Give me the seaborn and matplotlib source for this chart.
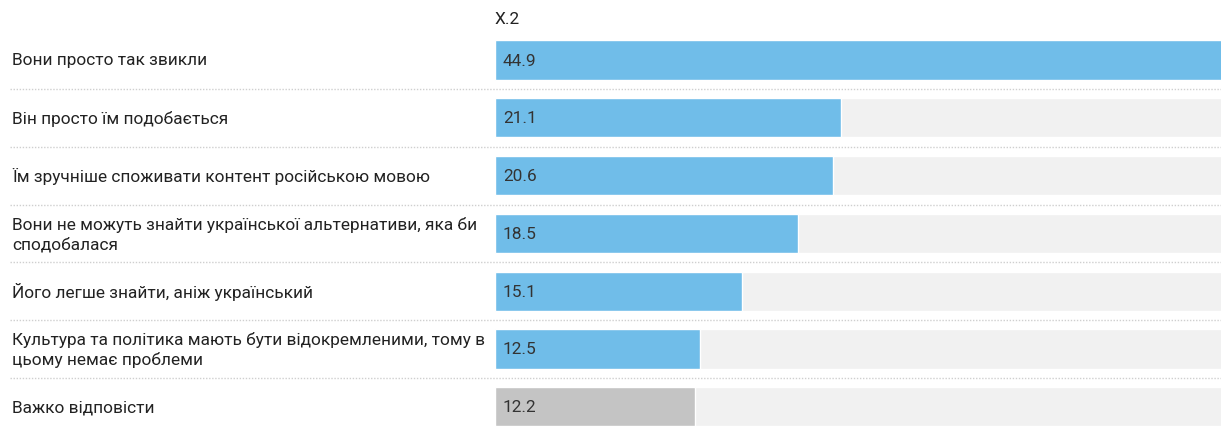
import matplotlib
matplotlib.use("Agg")
import matplotlib.pyplot as plt
import matplotlib.transforms as mtransforms
import seaborn as sns
import pandas as pd

categories = [
    "Вони просто так звикли",
    "Він просто їм подобається",
    "Їм зручніше споживати контент російською мовою",
    "Вони не можуть знайти української альтернативи, яка би\nсподобалася",
    "Його легше знайти, аніж український",
    "Культура та політика мають бути відокремленими, тому в\nцьому немає проблеми",
    "Важко відповісти",
]
values = [44.9, 21.1, 20.6, 18.5, 15.1, 12.5, 12.2]
value_labels = ["44.9", "21.1", "20.6", "18.5", "15.1", "12.5", "12.2"]
series_name = "X.2"
bar_colors = ["#70bde9"] * 6 + ["#c4c4c4"]

sns.set_theme(style="white")
plt.rcParams["font.family"] = ["Roboto", "DejaVu Sans"]

W, H = 1221, 427
fig = plt.figure(figsize=(W / 100, H / 100), dpi=100)
left_px = 495
ax = fig.add_axes([left_px / W, 0, (W - left_px) / W, 1])

df = pd.DataFrame({"cat": categories, "val": values})
track = pd.DataFrame({"cat": categories, "val": [max(values)] * len(values)})

sns.barplot(data=track, x="val", y="cat", orient="h", color="#f1f1f1",
            width=0.68, ax=ax, saturation=1)
sns.barplot(data=df, x="val", y="cat", orient="h", hue="cat",
            palette=bar_colors, width=0.68, ax=ax, saturation=1, legend=False)

pitch = 57.8
c0 = 61
ax.set_ylim((H - c0) / pitch, -c0 / pitch)
ax.set_xlim(0, 44.3)
ax.axis("off")

fs = 12.4
trans = mtransforms.blended_transform_factory(fig.transFigure, ax.transData)
for i, (cat, lab) in enumerate(zip(categories, value_labels)):
    ax.text(12 / W, i, cat, transform=trans, ha="left", va="center",
            fontsize=fs, color="#222222", linespacing=1.3)
    ax.text(503 / W, i, lab, transform=trans, ha="left",
            va="center", fontsize=fs, color="#333333")
    if i < len(categories) - 1:
        ax.plot([10 / W, 1], [i + 0.5, i + 0.5], transform=trans,
                color="#cfcfcf", lw=1, ls=(0, (1, 1.2)), clip_on=False)

ax.text(left_px / W, -0.72, series_name, transform=trans, ha="left",
        va="center", fontsize=fs, color="#222222")

fig.savefig("out.png", dpi=100, facecolor="white")
